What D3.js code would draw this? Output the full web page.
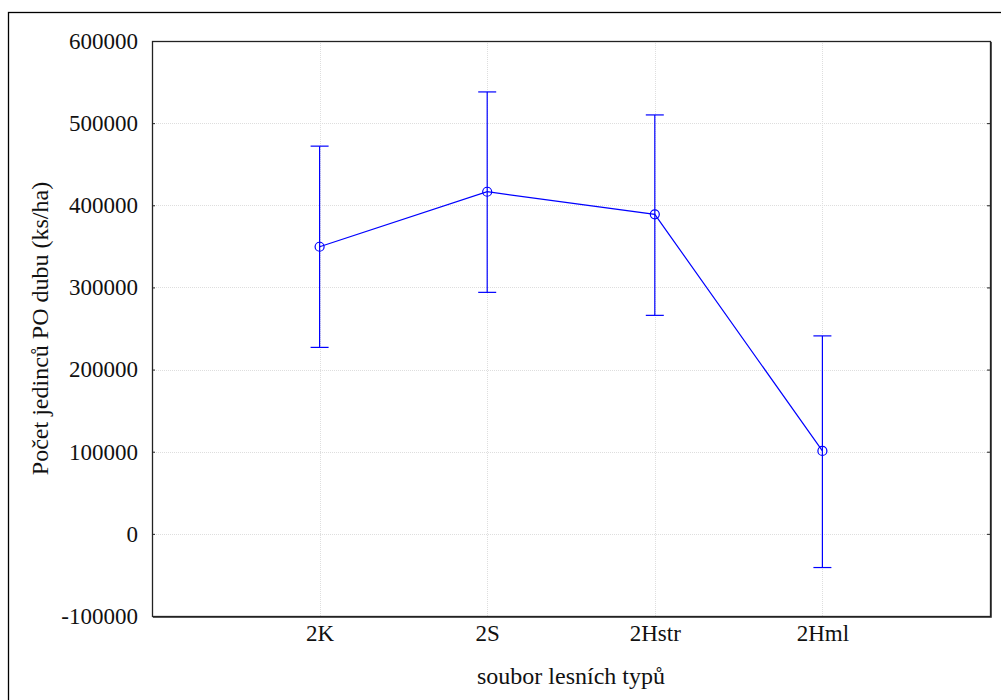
<!DOCTYPE html>
<html>
<head>
<meta charset="utf-8">
<script src="https://cdn.jsdelivr.net/npm/d3@7"></script>
<style>
  body { margin: 0; background: #fff; }
  svg { display: block; }
  svg text { font-family: "Liberation Serif", "Times New Roman", serif; fill: #111; }
</style>
</head>
<body>
<div id="chart"></div>
<script>
// data
const categories = ["2K", "2S", "2Hstr", "2Hml"];
const means = [349500, 416500, 389000, 101000];
const upper = [472000, 538000, 510000, 241000];
const lower = [227000, 294000, 266000, -41000];
const yTicks = [-100000, 0, 100000, 200000, 300000, 400000, 500000, 600000];

const W = 1001, H = 700;
const margin = { top: 41, right: 11, bottom: 84, left: 152 },
  width = W - margin.left - margin.right,
  height = H - margin.top - margin.bottom;

const svg = d3.select("#chart").append("svg")
  .attr("width", W)
  .attr("height", H);

// outer frame
svg.append("rect")
  .attr("x", 8.5).attr("y", 12.5)
  .attr("width", W + 10).attr("height", H + 10)
  .attr("fill", "none")
  .attr("stroke", "#000")
  .attr("stroke-width", 1.3);

const g = svg.append("g")
  .attr("transform", `translate(${margin.left},${margin.top})`);

const x = d3.scalePoint().domain(categories).range([0, width]).padding(1);
const y = d3.scaleLinear().domain([-100000, 600000]).range([height, 0]);

// grid
g.append("g").selectAll("line")
  .data(yTicks.slice(1, -1))
  .join("line")
  .attr("x1", 0).attr("x2", width)
  .attr("y1", d => Math.round(y(d)) + 0.5).attr("y2", d => Math.round(y(d)) + 0.5)
  .attr("stroke", "#dedede")
  .attr("stroke-dasharray", "1,1");
g.append("g").selectAll("line")
  .data(categories)
  .join("line")
  .attr("x1", d => Math.round(x(d)) + 0.5).attr("x2", d => Math.round(x(d)) + 0.5)
  .attr("y1", 0).attr("y2", height)
  .attr("stroke", "#dedede")
  .attr("stroke-dasharray", "1,1");

// y axis left
const yAxis = g.append("g")
  .call(d3.axisLeft(y).tickValues(yTicks).tickFormat(d => String(d)).tickSize(-3).tickPadding(14));
yAxis.attr("font-family", null).attr("font-size", null);
yAxis.select(".domain").remove();
yAxis.selectAll("line").attr("stroke", "#222");
yAxis.selectAll("text").style("font-size", "23px");

// y axis right ticks
const yAxisR = g.append("g")
  .attr("transform", `translate(${width},0)`)
  .call(d3.axisRight(y).tickValues(yTicks).tickFormat("").tickSize(-3));
yAxisR.select(".domain").remove();
yAxisR.selectAll("line").attr("stroke", "#222");

// x axis labels
const xAxis = g.append("g")
  .attr("transform", `translate(0,${height})`)
  .call(d3.axisBottom(x).tickSize(0).tickPadding(9));
xAxis.attr("font-family", null).attr("font-size", null);
xAxis.select(".domain").remove();
xAxis.selectAll("text").style("font-size", "23px");

// plot frame
g.append("rect")
  .attr("x", 0.5).attr("y", 0.5)
  .attr("width", width).attr("height", height)
  .attr("fill", "none")
  .attr("stroke", "#222")
  .attr("stroke-width", 1.3);
g.append("path")
  .attr("d", `M${width + 1.5},1V${height + 1.5}H1`)
  .attr("fill", "none")
  .attr("stroke", "#555")
  .attr("stroke-width", 1);

const blue = "#0000ff";
const rows = categories.map((c, i) => ({ c, m: means[i], hi: upper[i], lo: lower[i] }));

// error bars
const eb = g.append("g").attr("stroke", blue).attr("stroke-width", 1.2).attr("fill", "none");
eb.selectAll("line.v").data(rows).join("line").attr("class", "v")
  .attr("x1", d => x(d.c)).attr("x2", d => x(d.c))
  .attr("y1", d => y(d.hi)).attr("y2", d => y(d.lo));
eb.selectAll("line.t").data(rows).join("line").attr("class", "t")
  .attr("x1", d => x(d.c) - 9).attr("x2", d => x(d.c) + 9)
  .attr("y1", d => y(d.hi)).attr("y2", d => y(d.hi));
eb.selectAll("line.b").data(rows).join("line").attr("class", "b")
  .attr("x1", d => x(d.c) - 9).attr("x2", d => x(d.c) + 9)
  .attr("y1", d => y(d.lo)).attr("y2", d => y(d.lo));

// mean line
g.append("path")
  .datum(rows)
  .attr("d", d3.line().x(d => x(d.c)).y(d => y(d.m)))
  .attr("fill", "none")
  .attr("stroke", blue)
  .attr("stroke-width", 1.2);

// markers
g.selectAll("circle.pt").data(rows).join("circle").attr("class", "pt")
  .attr("cx", d => x(d.c)).attr("cy", d => y(d.m))
  .attr("r", 4.5)
  .attr("fill", "none")
  .attr("stroke", blue)
  .attr("stroke-width", 1.2);

// axis titles
svg.append("text")
  .attr("x", margin.left + width / 2)
  .attr("y", 684)
  .attr("text-anchor", "middle")
  .style("font-size", "24px")
  .text("soubor lesních typů");

svg.append("text")
  .attr("transform", `translate(48,${margin.top + height / 2}) rotate(-90)`)
  .attr("text-anchor", "middle")
  .style("font-size", "24px")
  .text("Počet jedinců PO dubu (ks/ha)");
</script>
</body>
</html>
